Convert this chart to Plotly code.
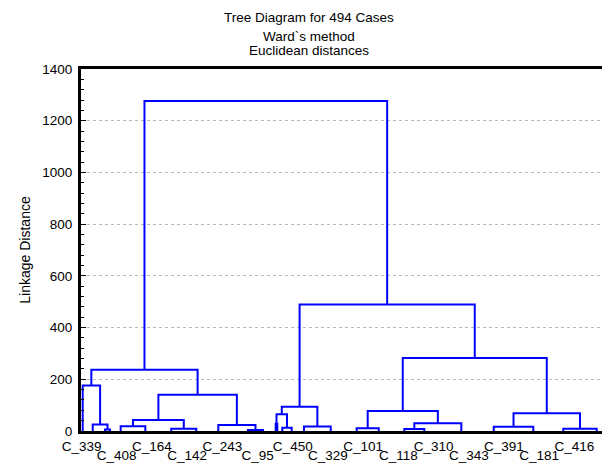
import plotly.graph_objects as go

# ---- data: dendrogram merges (leaf-order position, linkage distance) ----
n_cases = 494
merge_left_pos = [22.5, 11.0, 1.6, 37.2, 84.6, 48.75, 156.5, 128.7, 72.55, 9.7,
                  182.5, 188.7, 183.25, 209.0, 188.2,
                  258.4, 303.1, 312.45, 268.75, 386.9, 452.1, 405.45, 301.6, 204.9, 59.5]
merge_right_pos = [27.2, 24.85, 17.9, 60.3, 108.1, 96.35, 170.6, 163.55, 146.1, 109.3,
                   184.0, 197.5, 193.1, 234.1, 221.55,
                   279.1, 321.8, 356.5, 334.5, 424.0, 483.4, 467.75, 436.6, 369.1, 287.0]
merge_height = [6, 25, 176, 18, 9, 43, 4, 23, 140, 237,
                28, 13, 65, 17, 94,
                11, 8, 30, 77, 16, 9, 69, 282, 489, 1276]
left_child_height = [0, 0, 0, 0, 0, 18, 0, 0, 43, 176,
                     0, 0, 28, 0, 65,
                     0, 0, 8, 11, 0, 0, 16, 77, 94, 237]
right_child_height = [0, 6, 25, 0, 0, 9, 0, 4, 23, 140,
                      0, 0, 13, 0, 17,
                      0, 0, 0, 30, 0, 0, 9, 69, 282, 489]

label_pos_row1 = [0.5, 66.5, 132.5, 198.5, 264.5, 330.5, 396.5, 462.5]
label_txt_row1 = ["C_339", "C_164", "C_243", "C_450", "C_101", "C_310", "C_391", "C_416"]
label_pos_row2 = [33.5, 99.5, 165.5, 231.5, 297.5, 363.5, 429.5]
label_txt_row2 = ["C_408", "C_142", "C_95", "C_329", "C_118", "C_343", "C_181"]

title_lines = ["Tree Diagram for 494 Cases", "Ward`s method", "Euclidean distances"]

# ---- build line path ----
xs, ys = [], []
for xl, xr, h, hl, hr in zip(merge_left_pos, merge_right_pos, merge_height,
                             left_child_height, right_child_height):
    xs += [xl, xl, xr, xr, None]
    ys += [hl, h, h, hr, None]

FONT = "Liberation Sans, Arial, sans-serif"

fig = go.Figure()
fig.add_trace(go.Scatter(x=xs, y=ys, mode="lines",
                         line=dict(color="#0000ff", width=2),
                         hoverinfo="skip", showlegend=False))
fig.add_trace(go.Scatter(x=label_pos_row2, y=[0] * len(label_pos_row2), xaxis="x2",
                         mode="markers", opacity=0, hoverinfo="skip", showlegend=False))

ann = []
ys_title = [1.1417, 1.0905, 1.0515]
for t, yy in zip(title_lines, ys_title):
    ann.append(dict(text=t, xref="paper", yref="paper", x=0.4326, y=yy,
                    xanchor="center", yanchor="middle", showarrow=False,
                    font=dict(family=FONT, size=13.5, color="black")))

# the page body has an 8px margin, so the figure is sized to fit the 610x463 window
fig.update_layout(
    width=602, height=455,
    margin=dict(l=73, r=2, t=61, b=32, autoexpand=False),
    paper_bgcolor="white", plot_bgcolor="white",
    font=dict(family=FONT, size=13.5, color="black"),
    annotations=ann,
    xaxis=dict(range=[0, n_cases], showline=True, linewidth=3, linecolor="black",
               mirror=True, ticks="", showgrid=False, zeroline=False, automargin=False,
               tickmode="array", tickvals=label_pos_row1, ticktext=label_txt_row1,
               tickfont=dict(size=13.5, color="black"), ticklabelstandoff=1),
    xaxis2=dict(range=[0, n_cases], overlaying="x", side="bottom", anchor="y",
                showline=False, ticks="", showgrid=False, zeroline=False, automargin=False,
                tickmode="array", tickvals=label_pos_row2, ticktext=label_txt_row2,
                tickfont=dict(size=13.5, color="black"), ticklabelstandoff=14),
    yaxis=dict(range=[0, 1400], dtick=200, tick0=0, showline=True, linewidth=3,
               linecolor="black", mirror="ticks", ticks="inside", ticklen=5,
               tickwidth=1, tickcolor="black", showgrid=True, gridcolor="#b8b8b8",
               griddash="dot", gridwidth=1, zeroline=False, automargin=False,
               tickfont=dict(size=13.5, color="black"), ticklabelstandoff=3,
               minor=dict(dtick=40, ticks="inside", ticklen=3, tickcolor="black",
                          tickwidth=1, showgrid=False),
               title=dict(text="Linkage Distance", font=dict(size=14), standoff=9)),
)

fig.write_html("out.html")
